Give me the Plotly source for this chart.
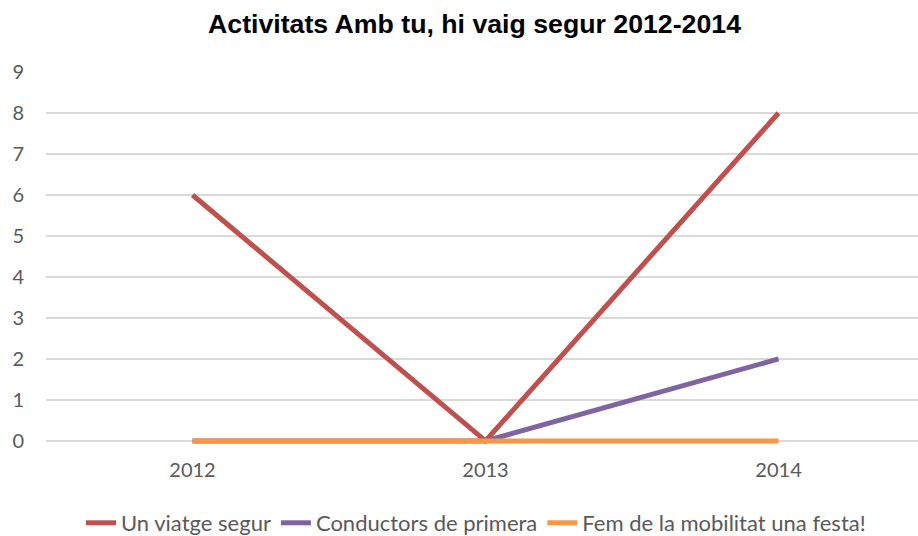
import plotly.graph_objects as go

years = ["2012", "2013", "2014"]
viatge = [6, 0, 8]
conductors = [0, 0, 2]
festa = [0, 0, 0]
names = ["Un viatge segur", "Conductors de primera", "Fem de la mobilitat una festa!"]
colors = ["#C0504D", "#8064A2", "#F79646"]

fig = go.Figure()
for vals, name, col in zip([viatge, conductors, festa], names, colors):
    fig.add_trace(go.Scatter(x=years, y=vals, name=name, mode="lines",
                             line=dict(color=col, width=5)))

fig.update_layout(
    width=918, height=536,
    margin=dict(l=46, r=0, t=72, b=91),
    paper_bgcolor="white", plot_bgcolor="white",
    title=dict(text="<b>Activitats Amb tu, hi vaig segur 2012-2014</b>",
               x=474.5 / 918, xanchor="center", xref="container",
               y=1 - 24 / 536, yanchor="middle", yref="container",
               font=dict(family="Liberation Sans, Arial", size=26.7, color="#000000")),
    font=dict(family="Lato, Open Sans, sans-serif", size=20, color="#595959"),
    xaxis=dict(type="category", range=[-0.5, 2.476], showgrid=False, showline=False,
               zeroline=False, ticks="outside", ticklen=7, tickcolor="rgba(0,0,0,0)",
               tickfont=dict(size=20, color="#595959"), automargin=False),
    yaxis=dict(range=[-0.1, 9], dtick=1, tick0=0, showgrid=True, gridcolor="#D9D9D9",
               gridwidth=1.5, zeroline=False, showline=False, ticks="outside", ticklen=17,
               tickcolor="rgba(0,0,0,0)", tickfont=dict(size=20, color="#595959"),
               automargin=False),
    legend=dict(orientation="h", x=476 / 918, xanchor="center", xref="container",
                y=(536 - 523) / 536, yanchor="middle", yref="container",
                font=dict(size=22, color="#595959"), itemwidth=30, tracegroupgap=0),
    showlegend=True,
)
fig.write_html("out.html", config={"displayModeBar": False},
               post_script="document.body.style.margin='0';document.body.style.overflow='hidden';")
